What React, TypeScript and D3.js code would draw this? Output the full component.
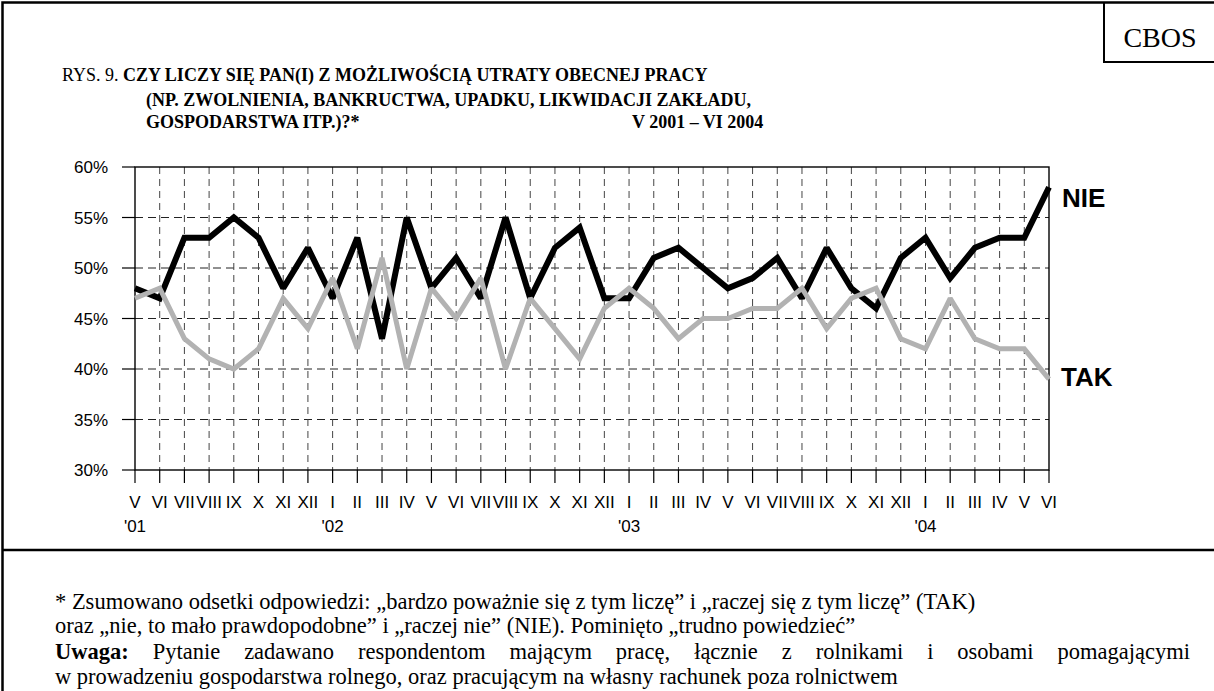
import { useEffect, useRef } from 'react'
import * as d3 from 'd3'

// * Chart data, V 2001 - VI 2004
const months = ['V', 'VI', 'VII', 'VIII', 'IX', 'X', 'XI', 'XII',
  'I', 'II', 'III', 'IV', 'V', 'VI', 'VII', 'VIII', 'IX', 'X', 'XI', 'XII',
  'I', 'II', 'III', 'IV', 'V', 'VI', 'VII', 'VIII', 'IX', 'X', 'XI', 'XII',
  'I', 'II', 'III', 'IV', 'V', 'VI']
const yearIndex = [0, 8, 20, 32]
const yearLabels = ["'01", "'02", "'03", "'04"]
const nie = [48, 47, 53, 53, 55, 53, 48, 52, 47, 53, 43, 55, 48, 51, 47, 55, 47, 52, 54, 47, 47, 51, 52, 50, 48, 49, 51, 47, 52, 48, 46, 51, 53, 49, 52, 53, 53, 58]
const tak = [47, 48, 43, 41, 40, 42, 47, 44, 49, 42, 51, 40, 48, 45, 49, 40, 47, 44, 41, 46, 48, 46, 43, 45, 45, 46, 46, 48, 44, 47, 48, 43, 42, 47, 43, 42, 42, 39]
const yTicks = [30, 35, 40, 45, 50, 55, 60]

const titleLines = [
  'CZY LICZY SIĘ PAN(I) Z MOŻLIWOŚCIĄ UTRATY OBECNEJ PRACY',
  '(NP. ZWOLNIENIA, BANKRUCTWA, UPADKU, LIKWIDACJI ZAKŁADU,',
  'GOSPODARSTWA ITP.)?*',
]
const period = 'V 2001 – VI 2004'
const notes = [
  '* Zsumowano odsetki odpowiedzi: „bardzo poważnie się z tym liczę” i „raczej się z tym liczę” (TAK)',
  'oraz „nie, to mało prawdopodobne” i „raczej nie” (NIE). Pominięto „trudno powiedzieć”',
  'Pytanie zadawano respondentom mającym pracę, łącznie z rolnikami i osobami pomagającymi',
  'w prowadzeniu gospodarstwa rolnego, oraz pracującym na własny rachunek poza rolnictwem',
]

const SERIF = '"Times New Roman", "Liberation Serif", serif'
const SANS = 'Arial, "Liberation Sans", sans-serif'

export default function App() {
  const ref = useRef<SVGSVGElement | null>(null)

  useEffect(() => {
    const svg = d3.select(ref.current)
    svg.selectAll('*').remove()

    // * frame
    svg.append('path')
      .attr('d', 'M2.5,691 V2.5 H1214 M2.5,550 H1214')
      .attr('fill', 'none').attr('stroke', '#000').attr('stroke-width', 2.5)
    svg.append('path')
      .attr('d', 'M1104,2.5 V62 H1214')
      .attr('fill', 'none').attr('stroke', '#000').attr('stroke-width', 2)
    svg.append('text')
      .attr('x', 1160).attr('y', 47).attr('text-anchor', 'middle')
      .attr('font-family', SERIF).attr('font-size', 28)
      .text('CBOS')

    // * title
    const titleSize = 18
    const serifText = (x: number, yPos: number, bold: boolean) =>
      svg.append('text').attr('x', x).attr('y', yPos)
        .attr('font-family', SERIF).attr('font-size', titleSize)
        .attr('font-weight', bold ? 'bold' : 'normal')
    const t1 = serifText(62, 81, false)
    t1.append('tspan').text('RYS. 9. ')
    t1.append('tspan').attr('font-weight', 'bold').text(titleLines[0])
    serifText(146, 106, true).text(titleLines[1])
    serifText(146, 128, true).text(titleLines[2])
    serifText(632, 128, true).text(period)

    // * scales
    const x = d3.scaleLinear().domain([0, months.length - 1]).range([135, 1049])
    const y = d3.scaleLinear().domain([30, 60]).range([470, 167])

    const chart = svg.append('g')

    // gridlines
    chart.selectAll('.hgrid')
      .data(yTicks.filter((d) => d > 30 && d < 60))
      .enter().append('line')
      .attr('x1', x(0)).attr('x2', x(months.length - 1))
      .attr('y1', (d) => y(d)).attr('y2', (d) => y(d))
      .attr('stroke', '#222').attr('stroke-width', 1)
      .attr('stroke-dasharray', '8,5')
    chart.selectAll('.vgrid')
      .data(d3.range(1, months.length - 1))
      .enter().append('line')
      .attr('x1', (d) => x(d)).attr('x2', (d) => x(d))
      .attr('y1', y(60)).attr('y2', y(30))
      .attr('stroke', '#444').attr('stroke-width', 1)
      .attr('stroke-dasharray', '7,5')

    // ticks
    chart.selectAll('.ytick')
      .data(yTicks)
      .enter().append('line')
      .attr('x1', x(0) - 13).attr('x2', x(0))
      .attr('y1', (d) => y(d)).attr('y2', (d) => y(d))
      .attr('stroke', '#000').attr('stroke-width', 1.2)
    chart.selectAll('.xtick')
      .data(d3.range(months.length))
      .enter().append('line')
      .attr('x1', (d) => x(d)).attr('x2', (d) => x(d))
      .attr('y1', y(30)).attr('y2', y(30) + 13)
      .attr('stroke', '#000').attr('stroke-width', 1.2)

    chart.append('rect')
      .attr('x', x(0)).attr('y', y(60))
      .attr('width', x(months.length - 1) - x(0)).attr('height', y(30) - y(60))
      .attr('fill', 'none').attr('stroke', '#000').attr('stroke-width', 1.4)

    // labels
    chart.selectAll('.ylab')
      .data(yTicks)
      .enter().append('text')
      .attr('x', 108).attr('y', (d) => y(d) + 6)
      .attr('text-anchor', 'end')
      .attr('font-family', SANS).attr('font-size', 17)
      .text((d) => `${d}%`)
    chart.selectAll('.xlab')
      .data(months)
      .enter().append('text')
      .attr('x', (d, i) => x(i)).attr('y', 508)
      .attr('text-anchor', 'middle')
      .attr('font-family', SANS).attr('font-size', 17)
      .text((d) => d)
    chart.selectAll('.yearlab')
      .data(yearIndex)
      .enter().append('text')
      .attr('x', (d) => x(d)).attr('y', 532)
      .attr('text-anchor', 'middle')
      .attr('font-family', SANS).attr('font-size', 17)
      .text((d, i) => yearLabels[i])

    // * lines
    const line = d3.line<number>().x((d, i) => x(i)).y((d) => y(d))
    chart.append('path')
      .datum(nie)
      .attr('d', line)
      .attr('fill', 'none').attr('stroke', '#000').attr('stroke-width', 6)
      .attr('stroke-linejoin', 'miter').attr('stroke-miterlimit', 2)
    chart.append('path')
      .datum(tak)
      .attr('d', line)
      .attr('fill', 'none').attr('stroke', '#b2b2b2').attr('stroke-width', 5)
      .attr('stroke-linejoin', 'miter').attr('stroke-miterlimit', 2)

    chart.append('text')
      .attr('x', 1062).attr('y', 207)
      .attr('font-family', SANS).attr('font-size', 26).attr('font-weight', 'bold')
      .text('NIE')
    chart.append('text')
      .attr('x', 1061).attr('y', 386)
      .attr('font-family', SANS).attr('font-size', 26).attr('font-weight', 'bold')
      .text('TAK')

    // * footnote
    const noteX = 55
    const noteSize = 22.5
    const noteText = (yPos: number, s: string) =>
      svg.append('text').attr('x', noteX).attr('y', yPos)
        .attr('font-family', SERIF).attr('font-size', noteSize)
        .text(s)
    noteText(609, notes[0])
    noteText(633, notes[1])

    // justified line with bold "Uwaga:"
    const rightEdge = 1190
    const words = ['Uwaga:', ...notes[2].split(' ')]
    const wordNodes = words.map((w, i) =>
      svg.append('text').attr('y', 659)
        .attr('font-family', SERIF).attr('font-size', noteSize)
        .attr('font-weight', i === 0 ? 'bold' : 'normal')
        .text(w))
    const widths = wordNodes.map((n) => (n.node() as SVGTextElement).getComputedTextLength())
    const gap = (rightEdge - noteX - d3.sum(widths)) / (words.length - 1)
    let cx = noteX
    wordNodes.forEach((n, i) => {
      n.attr('x', cx)
      cx += widths[i] + gap
    })

    noteText(684, notes[3])
  }, [])

  return (
    <svg ref={ref} width={1214} height={691}
      style={{ position: 'absolute', left: 0, top: 0, background: '#fff' }} />
  )
}
